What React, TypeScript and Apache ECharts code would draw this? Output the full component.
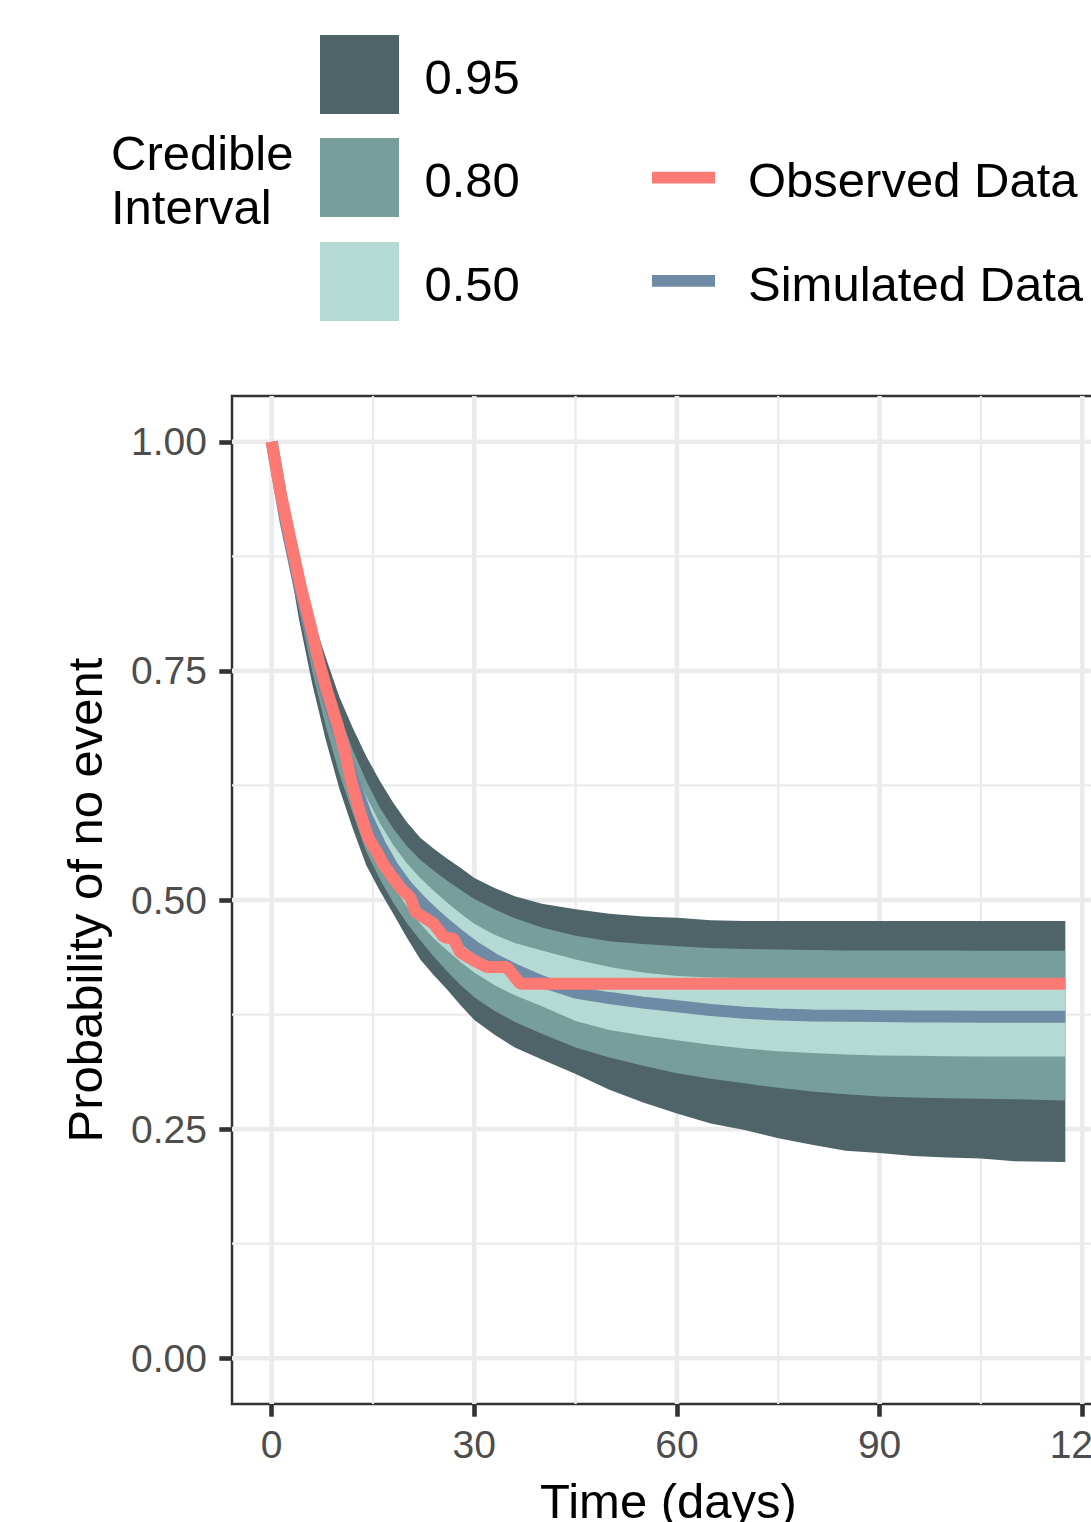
import React, { useEffect, useRef } from "react";
import * as echarts from "echarts";

// ---------- axis ticks ----------
const xTickValues = [0, 30, 60, 90, 120];
const xMinorValues = [15, 45, 75, 105];
const yTickValues = [0, 0.25, 0.5, 0.75, 1];
const yMinorValues = [0.125, 0.375, 0.625, 0.875];

// ---------- simulated survival (credible bands + median) ----------
const simTime = [0, 2, 4, 6, 8, 10, 12, 14, 16, 18, 20, 22, 24, 26, 28, 30, 33, 36, 40, 45, 50, 55, 60, 65, 70, 75, 80, 85, 90, 95, 100, 105, 110, 117.5];
const hi95 = [1.0, 0.930, 0.862, 0.810, 0.765, 0.722, 0.688, 0.657, 0.630, 0.606, 0.585, 0.568, 0.556, 0.545, 0.535, 0.524, 0.513, 0.504, 0.496, 0.490, 0.485, 0.482, 0.4805, 0.478, 0.4772, 0.477, 0.477, 0.477, 0.477, 0.477, 0.477, 0.477, 0.477, 0.477];
const hi80 = [1.0, 0.926, 0.857, 0.802, 0.750, 0.703, 0.664, 0.630, 0.601, 0.578, 0.559, 0.544, 0.532, 0.521, 0.511, 0.501, 0.490, 0.480, 0.470, 0.461, 0.455, 0.452, 0.4495, 0.4475, 0.4465, 0.446, 0.4455, 0.445, 0.445, 0.445, 0.445, 0.4447, 0.4445, 0.4445];
const hi50 = [1.0, 0.922, 0.852, 0.795, 0.740, 0.690, 0.648, 0.613, 0.584, 0.560, 0.540, 0.524, 0.510, 0.497, 0.485, 0.474, 0.462, 0.453, 0.445, 0.435, 0.427, 0.421, 0.417, 0.4155, 0.415, 0.415, 0.415, 0.415, 0.415, 0.415, 0.415, 0.415, 0.415, 0.415];
const median = [1.0, 0.915, 0.845, 0.785, 0.728, 0.680, 0.633, 0.592, 0.561, 0.535, 0.515, 0.499, 0.485, 0.472, 0.460, 0.449, 0.435, 0.424, 0.411, 0.399, 0.393, 0.388, 0.384, 0.380, 0.377, 0.375, 0.374, 0.3737, 0.3733, 0.373, 0.3728, 0.3726, 0.3726, 0.3726];
const lo50 = [1.0, 0.908, 0.831, 0.766, 0.708, 0.658, 0.613, 0.574, 0.543, 0.516, 0.493, 0.474, 0.458, 0.445, 0.432, 0.421, 0.407, 0.396, 0.384, 0.368, 0.358, 0.352, 0.347, 0.342, 0.338, 0.335, 0.333, 0.3315, 0.3304, 0.330, 0.3296, 0.3293, 0.3293, 0.3293];
const lo80 = [1.0, 0.900, 0.818, 0.750, 0.690, 0.638, 0.595, 0.553, 0.523, 0.497, 0.475, 0.456, 0.438, 0.422, 0.407, 0.394, 0.379, 0.367, 0.354, 0.339, 0.328, 0.319, 0.311, 0.305, 0.300, 0.295, 0.291, 0.288, 0.2855, 0.2845, 0.2837, 0.2832, 0.2825, 0.2813];
const lo95 = [1.0, 0.895, 0.808, 0.736, 0.675, 0.622, 0.578, 0.538, 0.510, 0.485, 0.459, 0.435, 0.418, 0.402, 0.385, 0.369, 0.353, 0.339, 0.326, 0.310, 0.293, 0.279, 0.267, 0.256, 0.249, 0.240, 0.233, 0.2265, 0.224, 0.2205, 0.219, 0.2178, 0.2148, 0.2141];

// ---------- observed Kaplan-Meier ----------
const obsTime = [0, 1.3, 2.8, 4.3, 5.8, 7.0, 8.2, 9.8, 10.9, 11.7, 13.0, 14.3, 15.6, 16.6, 17.6, 19.2, 20.5, 21.3, 24.0, 25.5, 26.9, 27.9, 29.9, 31.9, 34.8, 36.8, 117.5];
const obsSurv = [1.0, 0.945, 0.893, 0.842, 0.798, 0.760, 0.728, 0.690, 0.660, 0.632, 0.597, 0.568, 0.552, 0.538, 0.528, 0.512, 0.503, 0.487, 0.474, 0.4595, 0.4577, 0.443, 0.434, 0.4268, 0.4268, 0.4086, 0.4086];

// ---------- legend texts ----------
const intervalLevels = ["0.95", "0.80", "0.50"];
const lineLabels = ["Observed Data", "Simulated Data"];

const FONT = "'Liberation Sans', Arial, Helvetica, sans-serif";
const C95 = "#4E6469";
const C80 = "#779E9B";
const C50 = "#B5DAD4";
const RED = "#FC7A73";
const BLUE = "#6E8AA5";
const GRID = "#EBEBEB";
const DARK = "#333333";

const X_MIN = -5.875;
const X_MAX = 123.375;
const Y_MIN = -0.05;
const Y_MAX = 1.05;

function bandSeries(name: string, lower: number[], upper: number[], color: string, z: number) {
  return {
    type: "custom",
    name,
    z,
    silent: true,
    data: [[simTime[0], upper[0]]],
    renderItem: (_params: any, api: any) => {
      const pts: number[][] = [];
      for (let i = 0; i < simTime.length; i++) pts.push(api.coord([simTime[i], upper[i]]));
      for (let i = simTime.length - 1; i >= 0; i--) pts.push(api.coord([simTime[i], lower[i]]));
      return { type: "polygon", shape: { points: pts }, style: { fill: color, stroke: null } };
    },
  };
}

function vGridSeries(values: number[], width: number) {
  return {
    type: "custom",
    z: 1,
    silent: true,
    data: values.map((v) => [v, 0]),
    renderItem: (_p: any, api: any) => {
      const v = api.value(0);
      const a = api.coord([v, Y_MIN]);
      const b = api.coord([v, Y_MAX]);
      return { type: "line", shape: { x1: a[0], y1: a[1], x2: b[0], y2: b[1] }, style: { stroke: GRID, lineWidth: width } };
    },
  };
}

function hGridSeries(values: number[], width: number) {
  return {
    type: "custom",
    z: 1,
    silent: true,
    data: values.map((v) => [0, v]),
    renderItem: (_p: any, api: any) => {
      const v = api.value(1);
      const a = api.coord([X_MIN, v]);
      const b = api.coord([X_MAX, v]);
      return { type: "line", shape: { x1: a[0], y1: a[1], x2: b[0], y2: b[1] }, style: { stroke: GRID, lineWidth: width } };
    },
  };
}

export default function App() {
  const ref = useRef<HTMLDivElement>(null);

  useEffect(() => {
    if (!ref.current) return;
    const chart = echarts.init(ref.current, undefined, { renderer: "svg" });

    const legendColors = [C95, C80, C50];
    const legendRectY = [35, 138, 242];
    const lineColors = [RED, BLUE];
    const lineKeyY = [171.7, 275];
    const lineTextY = [180, 283.5];

    const graphic: any[] = [
      { type: "text", x: 111, y: 152.5, style: { text: "Credible", fill: "#000", fontSize: 49, fontFamily: FONT, align: "left", verticalAlign: "middle" } },
      { type: "text", x: 111, y: 206.5, style: { text: "Interval", fill: "#000", fontSize: 49, fontFamily: FONT, align: "left", verticalAlign: "middle" } },
    ];
    intervalLevels.forEach((lbl, i) => {
      graphic.push({ type: "rect", shape: { x: 320, y: legendRectY[i], width: 79, height: 79 }, style: { fill: legendColors[i] } });
      graphic.push({ type: "text", x: 424.5, y: legendRectY[i] + 41.5, style: { text: lbl, fill: "#000", fontSize: 49, fontFamily: FONT, align: "left", verticalAlign: "middle" } });
    });
    lineLabels.forEach((lbl, i) => {
      graphic.push({ type: "rect", shape: { x: 652, y: lineKeyY[i], width: 63, height: 11.7 }, style: { fill: lineColors[i] } });
      graphic.push({ type: "text", x: 748, y: lineTextY[i], style: { text: lbl, fill: "#000", fontSize: 49, fontFamily: FONT, align: "left", verticalAlign: "middle" } });
    });

    const option: any = {
      animation: false,
      backgroundColor: "#FFFFFF",
      textStyle: { fontFamily: FONT },
      grid: {
        left: 232,
        top: 396,
        width: 873,
        height: 1008,
        show: true,
        borderColor: DARK,
        borderWidth: 2.5,
        backgroundColor: "transparent",
        containLabel: false,
        outerBoundsMode: "none",
      },
      xAxis: {
        type: "value",
        min: X_MIN,
        max: X_MAX,
        axisLine: { show: false, onZero: false },
        axisTick: { show: true, customValues: xTickValues, length: 12.7, lineStyle: { color: DARK, width: 4.6 } },
        axisLabel: { show: true, customValues: xTickValues, margin: 21, color: "#4D4D4D", fontSize: 39, fontFamily: FONT, formatter: (v: number) => String(v) },
        splitLine: { show: false },
        name: "Time (days)",
        nameLocation: "middle",
        nameGap: 72.5,
        nameTextStyle: { fontSize: 49, color: "#000", fontFamily: FONT },
      },
      yAxis: {
        type: "value",
        min: Y_MIN,
        max: Y_MAX,
        axisLine: { show: false, onZero: false },
        axisTick: { show: true, customValues: yTickValues, length: 12.7, lineStyle: { color: DARK, width: 4.6 } },
        axisLabel: { show: true, customValues: yTickValues, margin: 25, color: "#4D4D4D", fontSize: 39, fontFamily: FONT, formatter: (v: number) => v.toFixed(2) },
        splitLine: { show: false },
        name: "Probability of no event",
        nameLocation: "middle",
        nameGap: 122.5,
        nameTextStyle: { fontSize: 49, color: "#000", fontFamily: FONT },
      },
      graphic,
      series: [
        vGridSeries(xMinorValues, 2.3),
        hGridSeries(yMinorValues, 2.3),
        vGridSeries(xTickValues, 4.6),
        hGridSeries(yTickValues, 4.6),
        bandSeries("0.95", lo95, hi95, C95, 2),
        bandSeries("0.80", lo80, hi80, C80, 3),
        bandSeries("0.50", lo50, hi50, C50, 4),
        {
          type: "line",
          name: "Simulated Data",
          z: 5,
          silent: true,
          data: simTime.map((t, i) => [t, median[i]]),
          symbol: "none",
          showSymbol: false,
          lineStyle: { color: BLUE, width: 12 },
          emphasis: { disabled: true },
        },
        {
          type: "line",
          name: "Observed Data",
          z: 6,
          silent: true,
          data: obsTime.map((t, i) => [t, obsSurv[i]]),
          symbol: "none",
          showSymbol: false,
          lineStyle: { color: RED, width: 12 },
          emphasis: { disabled: true },
        },
      ],
    };

    chart.setOption(option);
    return () => chart.dispose();
  }, []);

  return (
    <div style={{ position: "absolute", left: 0, top: 0, width: 1091, height: 1522, overflow: "hidden", background: "#fff" }}>
      <div ref={ref} style={{ width: 1150, height: 1522 }} />
    </div>
  );
}
